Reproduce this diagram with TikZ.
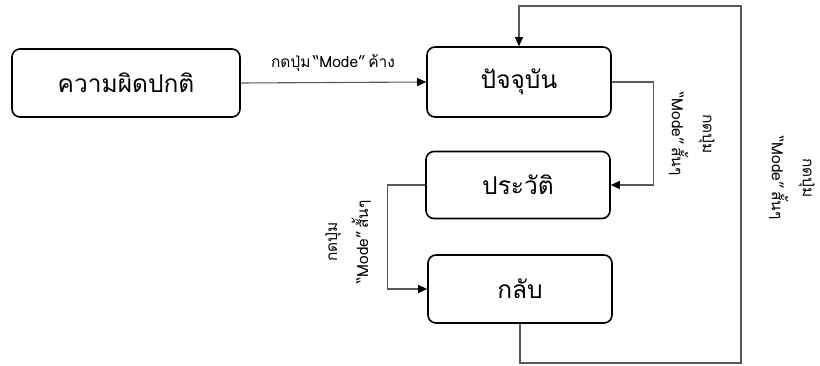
\documentclass[tikz,border=0pt]{standalone}
\usepackage{fontspec}
\usetikzlibrary{arrows.meta}
\newfontfamily\thaifont[Script=Thai]{Loma}
\newcommand{\gp}{\hspace{2.5pt}}
\tikzset{
  stbox/.style={draw=black, line width=1.6pt, rounded corners=8pt, fill=white,
    font=\thaifont\fontsize{24.5pt}{28pt}\selectfont, inner sep=0pt},
  conn/.style={draw=black!65, line width=1.1pt, -{Triangle[length=9pt,width=8pt,fill=black,color=black]}},
  lbl/.style={font=\thaifont\fontsize{15.5pt}{31pt}\selectfont, align=center, inner sep=0pt}
}
\begin{document}
\begin{tikzpicture}[x=1pt,y=-1pt]
\useasboundingbox (0,0) rectangle (820,366);
\node[stbox, minimum width=228pt, minimum height=68pt] (b1) at (126,83) {ความผิดปกติ};
\node[stbox, minimum width=184pt, minimum height=70pt] (b2) at (519,82) {ปัจจุบัน};
\node[stbox, minimum width=184pt, minimum height=67pt] (b3) at (518,185) {ประวัติ};
\node[stbox, minimum width=184pt, minimum height=68pt] (b4) at (520,289) {กลับ};
\coordinate (c1) at (741,363);
\coordinate (c2) at (741,6);
\draw[conn] (b1.east) -- (b2.west);
\draw[conn] (b2.east) -- ++(42,0) |- (b3.east);
\draw[conn] (b3.west) -- ++(-38,0) |- (b4.west);
\draw[conn] (b4.south) |- (c1) -- (c2) -| (b2.north);
\node[lbl] (l1) at (333,63) {กดปุ่ม\gp“Mode”\gp ค้าง};
\node[lbl, rotate=-90] (l2) at (692,134) {กดปุ่ม\\“Mode”\gp สั้นๆ};
\node[lbl, rotate=-90] (l3) at (792,178) {กดปุ่ม\\“Mode”\gp สั้นๆ};
\node[lbl, rotate=90] (l4) at (348,242) {กดปุ่ม\\“Mode”\gp สั้นๆ};
\end{tikzpicture}
\end{document}
